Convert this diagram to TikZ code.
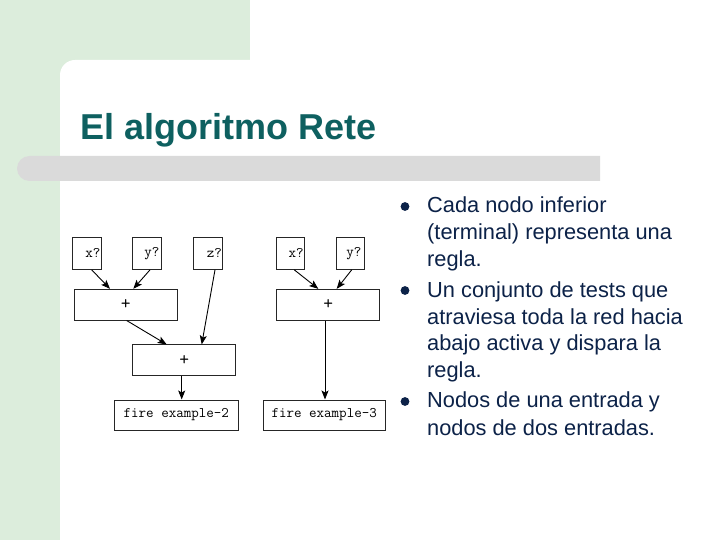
\documentclass[tikz,border=0pt]{standalone}
\usepackage{fontspec}
\setmainfont{Liberation Sans}
\usetikzlibrary{arrows.meta}
\definecolor{bggreen}{RGB}{220,237,220}
\definecolor{bargray}{RGB}{218,218,218}
\definecolor{titlecol}{RGB}{14,96,96}
\definecolor{textcol}{RGB}{12,34,72}
\newcommand{\plusglyph}{{\fontsize{19}{19}\selectfont+}}
\tikzset{
  rbox/.style={draw=black!85, line width=1pt, inner sep=0pt, font=\ttfamily\fontsize{14.6}{16}\selectfont},
  conn/.style={-{Stealth[length=9pt,width=7pt,inset=2pt]}, line width=0.9pt, black},
  bline/.style={anchor=base west, inner sep=0pt, text=textcol, font=\fontsize{21.8}{26}\selectfont},
  bdot/.style={fill=textcol}
}
\begin{document}
\begin{tikzpicture}[x=1pt,y=-1pt]
\useasboundingbox (0,0) rectangle (720,540);
% background
\fill[white] (0,0) rectangle (720,540);
\fill[bggreen] (0,0) rectangle (250,80);
\fill[bggreen] (0,0) rectangle (60,540);
\fill[white, rounded corners=15pt] (60,540) -- (60,60) -- (720,60) -- (720,540);
\fill[bargray, rounded corners=12.5pt] (600,156) -- (17,156) -- (17,181) -- (600,181);
% title
\node[anchor=base west, inner sep=0pt, text=titlecol, font=\fontsize{36}{40}\selectfont\bfseries] (title) at (80,140) {El algoritmo Rete};
% bullets
\fill[bdot] (405,206.5) circle (4.4pt);
\fill[bdot] (405,290.5) circle (4.4pt);
\fill[bdot] (405,401.5) circle (4.4pt);
\node[bline] (b1a) at (427,213) {Cada nodo inferior};
\node[bline] (b1b) at (427,239.7) {(terminal) representa una};
\node[bline] (b1c) at (427,266.5) {regla.};
\node[bline] (b2a) at (427,297.3) {Un conjunto de tests que};
\node[bline] (b2b) at (427,324) {atraviesa toda la red hacia};
\node[bline] (b2c) at (427,350.7) {abajo activa y dispara la};
\node[bline] (b2d) at (427,377.7) {regla.};
\node[bline] (b3a) at (427,407.7) {Nodos de una entrada y};
\node[bline] (b3b) at (427,435) {nodos de dos entradas.};
% left network
\node[rbox, minimum width=28.3pt, minimum height=32.3pt] (lx) at (86.9,253.2) {\hspace{12pt}x?};
\node[rbox, minimum width=28.7pt, minimum height=32.3pt] (ly) at (147.3,253.2) {\hspace{9pt}y?};
\node[rbox, minimum width=28.7pt, minimum height=32.3pt] (lz) at (208.3,253.2) {\hspace{12pt}z?};
\node[rbox, minimum width=103.3pt, minimum height=30.7pt] (lp1) at (125.7,304.7) {\plusglyph\hspace{5pt}};
\node[rbox, minimum width=103.3pt, minimum height=30.7pt] (lp2) at (184.3,360.3) {\plusglyph\hspace{3pt}};
\node[rbox, minimum width=124pt, minimum height=30pt] (lf) at (176.3,415) {fire example-2};
\draw[conn] ([xshift=4.8pt]lx.south) -- ([xshift=-15.7pt]lp1.north);
\draw[conn] ([xshift=2.7pt]ly.south) -- ([xshift=7.6pt]lp1.north);
\draw[conn] ([xshift=6.7pt]lz.south) -- ([xshift=17.4pt]lp2.north);
\draw[conn] ([xshift=1pt]lp1.south) -- ([xshift=-17.6pt]lp2.north);
\draw[conn] ([xshift=-2.6pt]lp2.south) -- ([xshift=5.4pt]lf.north);
% right network
\node[rbox, minimum width=28.3pt, minimum height=32.3pt] (rx) at (290.2,253.2) {\hspace{12pt}x?};
\node[rbox, minimum width=28.3pt, minimum height=32.3pt] (ry) at (350.8,253.2) {\hspace{6pt}y?};
\node[rbox, minimum width=103.3pt, minimum height=30.7pt] (rp) at (328.3,304.7) {\plusglyph\hspace{3pt}};
\node[rbox, minimum width=121.7pt, minimum height=30pt] (rf) at (324.2,415) {fire example-3};
\draw[conn] ([xshift=4.1pt]rx.south) -- ([xshift=-10pt]rp.north);
\draw[conn] ([xshift=0.9pt]ry.south) -- ([xshift=8.4pt]rp.north);
\draw[conn] ([xshift=-3.3pt]rp.south) -- ([xshift=0.8pt]rf.north);
\end{tikzpicture}
\end{document}
